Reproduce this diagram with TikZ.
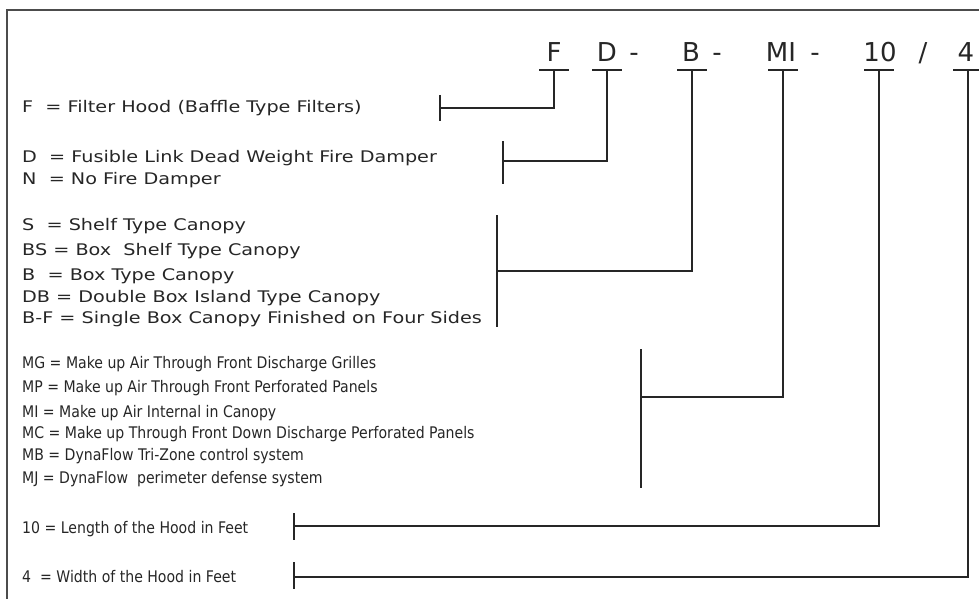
\documentclass[tikz,border=0pt]{standalone}
\usepackage{fontspec}
\setmainfont{DejaVu Sans}
\newfontfamily\wideF[FakeStretch=1.2]{DejaVu Sans}
\newfontfamily\narrowF[FakeStretch=0.88]{DejaVu Sans}
\usetikzlibrary{calc}
\begin{document}
\begin{tikzpicture}[x=1pt,y=-1pt,
  ink/.style={draw=black!85,line width=1.4pt},
  frame/.style={draw=black!70,line width=1.6pt},
  code/.style={inner sep=0pt,anchor=base,font=\fontsize{26}{26}\selectfont,text=black!85},
  desc/.style={inner sep=0pt,anchor=base west,font=\wideF\fontsize{16}{16}\selectfont,text=black!85},
  descn/.style={inner sep=0pt,anchor=base west,font=\narrowF\fontsize{16}{16}\selectfont,text=black!85}]
\useasboundingbox (0,0) rectangle (979,599);
\clip (0,0) rectangle (979,599);
\draw[frame] (7,620) -- (7,10) -- (1000,10);
% code letters
\node[code] (cF) at (554,62) {F};
\node[code] (cD) at (607,62) {D};
\node[code] (d1) at (634,62) {-};
\node[code] (cB) at (691,62) {B};
\node[code] (d2) at (717,62) {-};
\node[code] (cMI) at (781,62) {MI};
\node[code] (d3) at (815,62) {-};
\node[code] (c10) at (880,62) {10};
\node[code] (sl) at (923,62) {/};
\node[code] (c4) at (966,62) {4};
% bar tops
\coordinate (tF) at (554,70);
\coordinate (tD) at (607,70);
\coordinate (tB) at (692,70);
\coordinate (tMI) at (783,70);
\coordinate (t10) at (879,70);
\coordinate (t4) at (968,70);
\foreach \t in {tF,tD,tB,tMI,t10,t4}{\draw[ink] ($(\t)+(-15,0)$) -- ($(\t)+(15,0)$);}
% descriptions
\node[desc] (lF) at (22,113) {F \ = Filter Hood (Baffle Type Filters)};
\node[desc] (lD) at (22,162) {D \ = Fusible Link Dead Weight Fire Damper};
\node[desc] (lN) at (22,184) {N \ = No Fire Damper};
\node[desc] (lS) at (22,230) {S \ = Shelf Type Canopy};
\node[desc] (lBS) at (22,255) {BS = Box \ Shelf Type Canopy};
\node[desc] (lB) at (22,280) {B \ = Box Type Canopy};
\node[desc] (lDB) at (22,302) {DB = Double Box Island Type Canopy};
\node[desc] (lBF) at (22,323) {B-F = Single Box Canopy Finished on Four Sides};
\node[descn] (lMG) at (22,368) {MG = Make up Air Through Front Discharge Grilles};
\node[descn] (lMP) at (22,392) {MP = Make up Air Through Front Perforated Panels};
\node[descn] (lMI) at (22,417) {MI = Make up Air Internal in Canopy};
\node[descn] (lMC) at (22,438) {MC = Make up Through Front Down Discharge Perforated Panels};
\node[descn] (lMB) at (22,460) {MB = DynaFlow Tri-Zone control system};
\node[descn] (lMJ) at (22,483) {MJ = DynaFlow \ perimeter defense system};
\node[descn] (l10) at (22,533) {10 = Length of the Hood in Feet};
\node[descn] (l4) at (22,582) {4 \ = Width of the Hood in Feet};
% brackets
\coordinate (bF) at (440,108);
\coordinate (bD) at (503,161);
\coordinate (bB) at (497,271);
\coordinate (bMI) at (641,397);
\coordinate (b10) at (294,526);
\coordinate (b4) at (294,577);
\draw[ink] (tF) |- (bF);
\draw[ink] (tD) |- (bD);
\draw[ink] (tB) |- (bB);
\draw[ink] (tMI) |- (bMI);
\draw[ink] (t10) |- (b10);
\draw[ink] (t4) |- (b4);
\draw[ink] (440,95) -- (440,121);
\draw[ink] (503,141) -- (503,184);
\draw[ink] (497,215) -- (497,327);
\draw[ink] (641,349) -- (641,488);
\draw[ink] (294,513) -- (294,540);
\draw[ink] (294,562) -- (294,589);
\end{tikzpicture}
\end{document}
